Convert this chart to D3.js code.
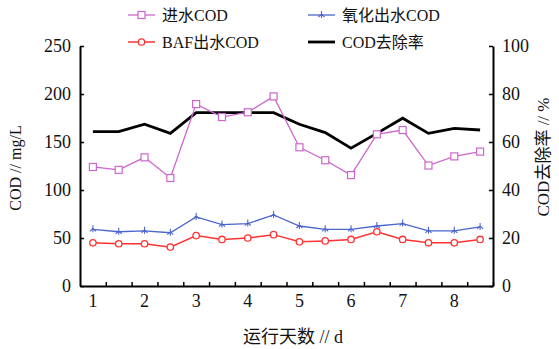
<!DOCTYPE html>
<html><head><meta charset="utf-8">
<script src="https://cdn.jsdelivr.net/npm/d3@7"></script>
<style>body{margin:0;background:#fff}svg{display:block}</style>
</head><body>
<svg id="c" width="559" height="349"></svg>
<script>
const days = [1,1.5,2,2.5,3,3.5,4,4.5,5,5.5,6,6.5,7,7.5,8,8.5];
const influent = [124,121,134,112.5,189.5,176,181,197.5,144.5,131,115.5,158,162.5,125.5,135,140];
const oxidEffluent = [59,56.5,57.5,55.5,72,64,65,74,62.5,59,59,62.5,65,57.5,57.5,61.5];
const bafEffluent = [45,44,44,40.5,52.5,48.5,50,53.5,46,47,48.5,56.5,48.5,45,45,48.5];
const removal = [64.3,64.3,67.4,63.6,72.2,72.2,72.2,72.2,67.4,63.9,57.4,63.6,69.9,63.6,65.7,65];
const xTickLabels = [1,2,3,4,5,6,7,8];
const xMinorTicks = [1.25,1.75,2.25,2.75,3.25,3.75,4.25,4.75,5.25,5.75,6.25,6.75,7.25,7.75,8.25,8.75];
const leftTicks = [0,50,100,150,200,250];
const rightTicks = [0,20,40,60,80,100];
const legendNames = ["进水COD","氧化出水COD","BAF出水COD","COD去除率"];

const svg = d3.select("#c");
const X0=80, X1=493, Y0=286, Y1=46;
const x = d3.scaleLinear().domain([0.75,8.75]).range([X0,X1]);
const yL = d3.scaleLinear().domain([0,250]).range([Y0,Y1]);
const yR = d3.scaleLinear().domain([0,100]).range([Y0,Y1]);
const serif = "'Liberation Serif','Times New Roman',serif";
const cjk = "'Liberation Serif','Noto Sans CJK SC',serif";

// axes
const gL = svg.append("g").attr("transform",`translate(${X0},0)`)
  .call(d3.axisLeft(yL).tickValues(leftTicks).tickSizeInner(-4).tickSizeOuter(0).tickPadding(9));
const gR = svg.append("g").attr("transform",`translate(${X1},0)`)
  .call(d3.axisRight(yR).tickValues(rightTicks).tickSizeInner(-4).tickSizeOuter(0).tickPadding(9));
const gB = svg.append("g").attr("transform",`translate(0,${Y0})`)
  .call(d3.axisBottom(x).tickValues(xMinorTicks).tickSizeInner(-4).tickSizeOuter(0).tickFormat(""));
[gL,gR,gB].forEach(g=>{
  g.attr("font-family",serif).attr("font-size",18);
  g.selectAll(".domain").attr("stroke","#000").attr("stroke-width",2);
  g.selectAll(".tick line").attr("stroke","#000").attr("stroke-width",1.5);
  g.selectAll("text").attr("font-family",serif).attr("font-size",18).attr("fill","#111");
});
// x labels
svg.append("g").selectAll("text").data(xTickLabels).join("text")
  .attr("x",d=>x(d)).attr("y",307).attr("text-anchor","middle")
  .attr("font-family",serif).attr("font-size",18).attr("fill","#111").text(d=>d);

// axis titles
svg.append("text").attr("transform","translate(21,168) rotate(-90)").attr("text-anchor","middle")
  .attr("font-family",cjk).attr("font-size",16).attr("fill","#111").text("COD // mg/L");
svg.append("text").attr("transform","translate(549,157) rotate(-90)").attr("text-anchor","middle")
  .attr("font-family",cjk).attr("font-size",17).attr("fill","#111").text("COD去除率 // %");
svg.append("text").attr("x",293).attr("y",343).attr("text-anchor","middle")
  .attr("font-family",cjk).attr("font-size",18).attr("fill","#111").text("运行天数 // d");

const line = (ys,sc)=>d3.line().x((d,i)=>x(days[i])).y(d=>sc(d))(ys);
const colors = {inf:"#cc66cc", oxi:"#4a66cc", baf:"#ff3333", rem:"#000"};

svg.append("path").attr("d",line(removal,yR)).attr("fill","none").attr("stroke",colors.rem).attr("stroke-width",2.8);
svg.append("path").attr("d",line(influent,yL)).attr("fill","none").attr("stroke",colors.inf).attr("stroke-width",1.3);
svg.append("path").attr("d",line(oxidEffluent,yL)).attr("fill","none").attr("stroke",colors.oxi).attr("stroke-width",1.3);
svg.append("path").attr("d",line(bafEffluent,yL)).attr("fill","none").attr("stroke",colors.baf).attr("stroke-width",1.5);

function square(g,cx,cy){g.append("rect").attr("x",cx-3.5).attr("y",cy-3.5).attr("width",7).attr("height",7).attr("fill","#fff").attr("stroke",colors.inf).attr("stroke-width",1.2);}
function circle(g,cx,cy){g.append("circle").attr("cx",cx).attr("cy",cy).attr("r",3.2).attr("fill","#fff").attr("stroke",colors.baf).attr("stroke-width",1.3);}
function star(g,cx,cy){g.append("path").attr("d",`M${cx},${cy-4}L${cx},${cy+3}M${cx-3},${cy+2}L${cx},${cy-1}L${cx+3},${cy+2}`).attr("fill","none").attr("stroke",colors.oxi).attr("stroke-width",1.1);}

const gm = svg.append("g");
influent.forEach((v,i)=>square(gm,x(days[i]),yL(v)));
oxidEffluent.forEach((v,i)=>star(gm,x(days[i]),yL(v)));
bafEffluent.forEach((v,i)=>circle(gm,x(days[i]),yL(v)));

// legend
const leg = [
  {n:legendNames[0],c:colors.inf,x:128,y:15,m:square,w:1.3},
  {n:legendNames[1],c:colors.oxi,x:308,y:15,m:star,w:1.3},
  {n:legendNames[2],c:colors.baf,x:128,y:42,m:circle,w:1.5},
  {n:legendNames[3],c:colors.rem,x:308,y:42,m:null,w:2.8}
];
leg.forEach(d=>{
  const g = svg.append("g");
  g.append("line").attr("x1",d.x).attr("x2",d.x+27).attr("y1",d.y).attr("y2",d.y).attr("stroke",d.c).attr("stroke-width",d.w);
  if(d.m) d.m(g,d.x+13.5,d.y);
  g.append("text").attr("x",d.x+34).attr("y",d.y+6).attr("font-family",cjk).attr("font-size",16).attr("fill","#111").text(d.n);
});
</script>
</body></html>
